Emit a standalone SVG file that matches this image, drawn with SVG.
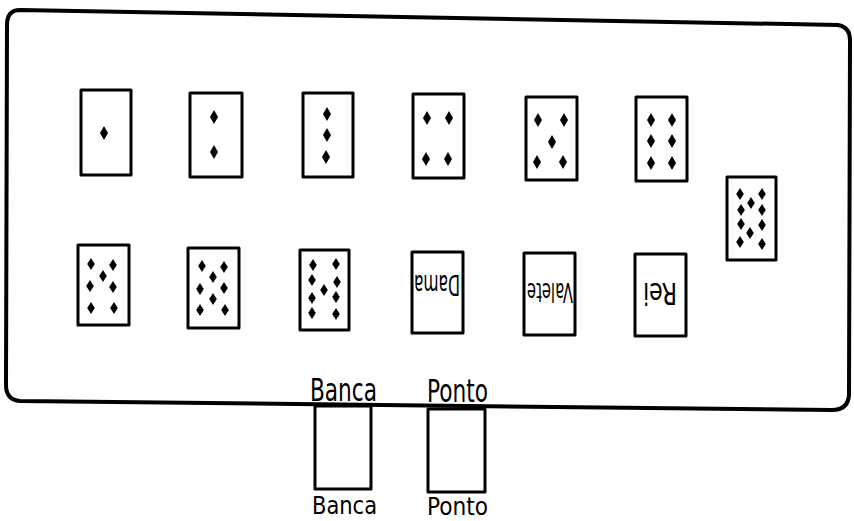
<svg xmlns="http://www.w3.org/2000/svg" xmlns:xlink="http://www.w3.org/1999/xlink" width="854" height="521" viewBox="0 0 854 521">
<style>
.card{fill:#fff;stroke:#000;stroke-width:3;stroke-linejoin:round}
.frame{fill:none;stroke:#000;stroke-width:4;stroke-linejoin:round}
.lbl{font-family:"DejaVu Sans Condensed","Liberation Sans",Arial,sans-serif;fill:#000}
.face{font-family:"DejaVu Sans Condensed","Liberation Sans",Arial,sans-serif;fill:#000;text-anchor:middle}
</style>
<defs>
<path id="d" d="M0,-7 L4,0 L0,7 L-4,0 Z" fill="#000"/>
<path id="s" d="M0,-6 L3.8,0 L0,6 L-3.8,0 Z" fill="#000"/>
</defs>
<rect width="854" height="521" fill="#fff"/>
<g id="table">
<path class="frame" d="M20,10 L838,25 Q850,27 850,40 L849,395 Q848,410 832,410 L20,401 Q6,400 6,385 L7,25 Q7,10 20,10 Z"/>
</g>
<g id="card-1">
<rect class="card" x="81" y="90" width="50" height="85"/>
<use href="#d" x="104" y="133"/>
</g>
<g id="card-2">
<rect class="card" x="190" y="93" width="52" height="84"/>
<use href="#d" x="214" y="117"/><use href="#d" x="214" y="152"/>
</g>
<g id="card-3">
<rect class="card" x="303" y="93" width="50" height="84"/>
<use href="#d" x="327" y="114"/><use href="#d" x="327" y="135"/><use href="#d" x="326" y="157"/>
</g>
<g id="card-4">
<rect class="card" x="413" y="94" width="51" height="84"/>
<use href="#d" x="427" y="118"/><use href="#d" x="449" y="118"/><use href="#d" x="426" y="159"/><use href="#d" x="448" y="159"/>
</g>
<g id="card-5">
<rect class="card" x="526" y="97" width="51" height="83"/>
<use href="#d" x="538" y="120"/><use href="#d" x="564" y="120"/><use href="#d" x="552" y="142"/><use href="#d" x="537" y="162"/><use href="#d" x="563" y="162"/>
</g>
<g id="card-6">
<rect class="card" x="636" y="97" width="51" height="84"/>
<use href="#d" x="651" y="120"/><use href="#d" x="672" y="120"/><use href="#d" x="651" y="141"/><use href="#d" x="672" y="141"/><use href="#d" x="651" y="163"/><use href="#d" x="672" y="163"/>
</g>
<g id="card-10">
<rect class="card" x="727" y="177" width="49" height="83"/>
<use href="#s" x="740" y="194"/><use href="#s" x="762" y="194"/><use href="#s" x="751" y="203"/><use href="#s" x="741" y="210"/><use href="#s" x="762" y="210"/><use href="#s" x="741" y="224"/><use href="#s" x="762" y="225"/><use href="#s" x="750" y="233"/><use href="#s" x="740" y="242"/><use href="#s" x="762" y="244"/>
</g>
<g id="card-7">
<rect class="card" x="78" y="245" width="51" height="80"/>
<use href="#s" x="91" y="264"/><use href="#s" x="113" y="265"/><use href="#s" x="103" y="276"/><use href="#s" x="90" y="286"/><use href="#s" x="113" y="287"/><use href="#s" x="91" y="308"/><use href="#s" x="114" y="308"/>
</g>
<g id="card-8">
<rect class="card" x="188" y="248" width="51" height="80"/>
<use href="#s" x="202" y="266"/><use href="#s" x="224" y="267"/><use href="#s" x="213" y="277"/><use href="#s" x="200" y="289"/><use href="#s" x="224" y="288"/><use href="#s" x="213" y="299"/><use href="#s" x="200" y="310"/><use href="#s" x="225" y="310"/>
</g>
<g id="card-9">
<rect class="card" x="300" y="250" width="49" height="80"/>
<use href="#s" x="313" y="265"/><use href="#s" x="336" y="264"/><use href="#s" x="312" y="280"/><use href="#s" x="337" y="282"/><use href="#s" x="324" y="290"/><use href="#s" x="312" y="298"/><use href="#s" x="336" y="297"/><use href="#s" x="312" y="313"/><use href="#s" x="336" y="314"/>
</g>
<g id="card-dama">
<rect class="card" x="412" y="252" width="51" height="81"/>
<text class="face" x="437" y="295" font-size="28" textLength="46" lengthAdjust="spacingAndGlyphs" transform="rotate(180 437 285)">Dama</text>
</g>
<g id="card-valete">
<rect class="card" x="524" y="253" width="51" height="82"/>
<text class="face" x="550" y="301" font-size="26" textLength="46" lengthAdjust="spacingAndGlyphs" transform="rotate(180 550 292)">Valete</text>
</g>
<g id="card-rei">
<rect class="card" x="635" y="254" width="51" height="82"/>
<text class="face" x="660" y="303" font-size="30" textLength="34" lengthAdjust="spacingAndGlyphs" transform="rotate(180 660 293)">Rei</text>
</g>
<g id="card-banca">
<rect class="card" x="315" y="406" width="56" height="83"/>
</g>
<g id="card-ponto">
<rect class="card" x="428" y="409" width="57" height="83"/>
</g>
<g id="labels">
<text class="lbl" x="310" y="401" font-size="32" textLength="67" lengthAdjust="spacingAndGlyphs">Banca</text>
<text class="lbl" x="427" y="402" font-size="32" textLength="61" lengthAdjust="spacingAndGlyphs">Ponto</text>
<text class="lbl" x="312" y="514" font-size="25" textLength="65" lengthAdjust="spacingAndGlyphs">Banca</text>
<text class="lbl" x="427" y="515" font-size="25" textLength="61" lengthAdjust="spacingAndGlyphs">Ponto</text>
</g>
</svg>
